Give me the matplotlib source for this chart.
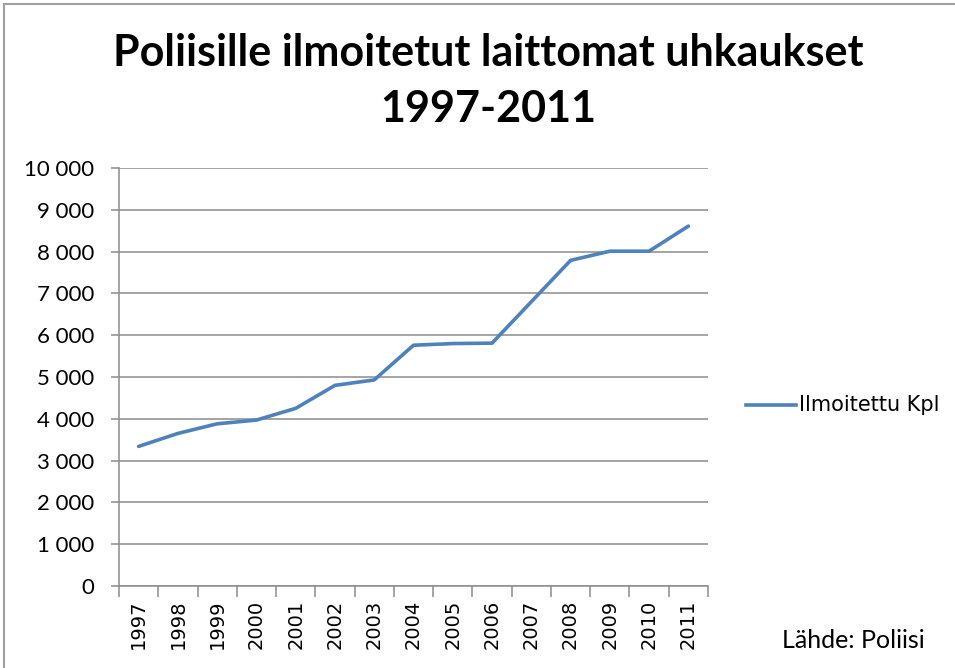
import matplotlib
matplotlib.use('Agg')
import matplotlib.pyplot as plt
from matplotlib.lines import Line2D
from matplotlib.ticker import FixedLocator, FuncFormatter

# Data
years = ['1997', '1998', '1999', '2000', '2001', '2002', '2003', '2004',
         '2005', '2006', '2007', '2008', '2009', '2010', '2011']
reported = [3340, 3650, 3880, 3970, 4250, 4800, 4930, 5760,
            5800, 5810, 6800, 7790, 8010, 8010, 8610]
y_ticks = list(range(0, 10001, 1000))

title = 'Poliisille ilmoitetut laittomat uhkaukset\n1997-2011'
series_name = 'Ilmoitettu Kpl'
source = 'Lähde: Poliisi'

LINE_COLOR = '#4F81BD'
GRID_COLOR = '#8c8c8c'
FONT = 'Lato'

fig = plt.figure(figsize=(9.55, 6.68), dpi=100)
W, H = 955, 668

# outer chart border (top and left visible)
fig.add_artist(Line2D([4 / W, 1], [1 - 4 / H, 1 - 4 / H], color='#a0a0a0', lw=1.5))
fig.add_artist(Line2D([4 / W, 4 / W], [0, 1 - 4 / H], color='#a0a0a0', lw=1.5))

ax = fig.add_axes([119 / W, 1 - 586 / H, 589 / W, 418 / H])

x = list(range(len(years)))
ax.plot(x, reported, color=LINE_COLOR, lw=2.6, solid_capstyle='round')

ax.set_xlim(-0.5, len(years) - 0.5)
ax.set_ylim(0, 10000)

# horizontal gridlines
ax.yaxis.set_major_locator(FixedLocator(y_ticks))
ax.grid(axis='y', color=GRID_COLOR, lw=1.1)
ax.set_axisbelow(True)
ax.yaxis.set_major_formatter(FuncFormatter(lambda v, p: f'{int(v):,}'.replace(',', ' ')))
ax.tick_params(axis='y', length=6, width=1.1, color=GRID_COLOR, pad=12,
               labelsize=16)
for lab in ax.get_yticklabels():
    lab.set_fontfamily(FONT)

# category labels centered, tick marks between categories
ax.set_xticks(x)
ax.set_xticklabels(years, rotation=90, fontsize=14, fontfamily='DejaVu Sans')
ax.tick_params(axis='x', which='major', length=0, pad=10)
ax.set_xticks([i - 0.5 for i in range(len(years) + 1)], minor=True)
ax.tick_params(axis='x', which='minor', length=8, width=1.1, color=GRID_COLOR)

for side in ['top', 'right']:
    ax.spines[side].set_visible(False)
for side in ['left', 'bottom']:
    ax.spines[side].set_color(GRID_COLOR)
    ax.spines[side].set_linewidth(1.1)

fig.text(488 / W, 1 - 81 / H, title, ha='center', va='center', fontsize=31,
         fontweight='bold', fontfamily=FONT, linespacing=1.5)

# legend
fig.add_artist(Line2D([746 / W, 796 / W], [1 - 405 / H, 1 - 405 / H],
                      color=LINE_COLOR, lw=2.6))
fig.text(799 / W, 1 - 405 / H, series_name, ha='left', va='center',
         fontsize=15, fontfamily='DejaVu Sans')

fig.text(782 / W, 1 - 640 / H, source, ha='left', va='center',
         fontsize=18, fontfamily=FONT)

fig.savefig('out.png', dpi=100)
